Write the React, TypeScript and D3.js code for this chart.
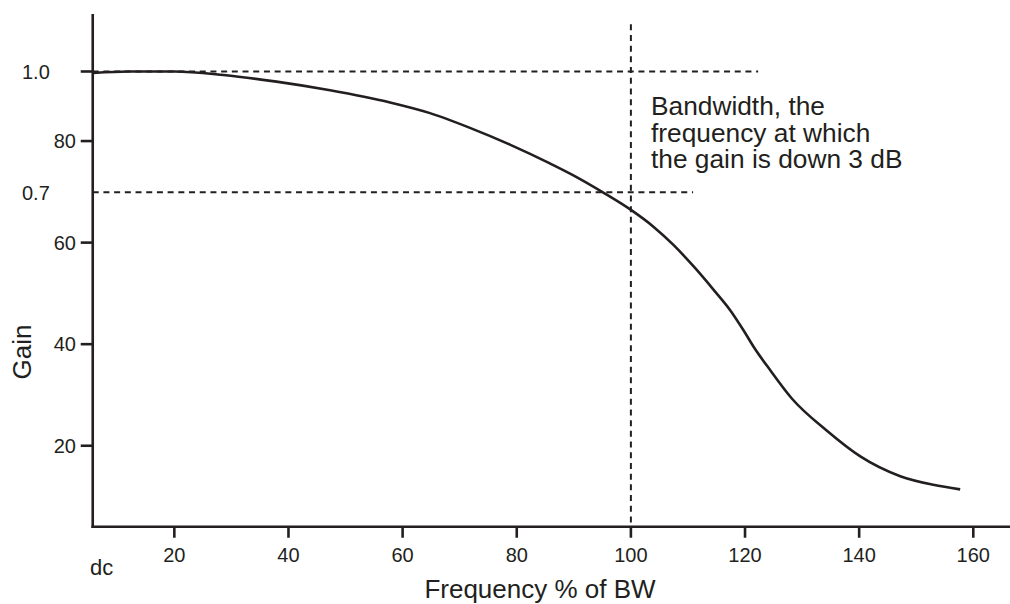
import * as d3 from "d3";

// curve (freq % of BW, gain)
const freq = [5.75, 12, 20, 28.6, 37.9, 47.3, 57.8, 64.8, 71.8, 78.8, 85.8, 90, 95.1, 100.2, 104, 107.5, 111, 114.5, 117.4, 119.7, 121.5, 124.4, 128.2, 134.3, 140.2, 147.2, 153.0, 157.7];
const gain = [93.4, 93.7, 93.7, 93.0, 91.7, 90.0, 87.6, 85.5, 82.6, 79.3, 75.6, 73.2, 69.9, 66.3, 63.1, 59.5, 55.3, 50.7, 46.7, 42.8, 39.5, 34.9, 29.3, 23.0, 17.9, 14.0, 12.3, 11.4];

const xTicks = [20, 40, 60, 80, 100, 120, 140, 160];
const yTicks = [20, 40, 60, 80];
const refLevels = [
  { label: "1.0", value: 93.7, end: 122.3, tick: true },
  { label: "0.7", value: 69.9, end: 110.9, tick: false },
];
const bandwidth = 100;
const noteLines = ["Bandwidth, the", "frequency at which", "the gain is down 3 dB"];

const W = 1010;
const H = 604;
const ink = "#231f20";
const font = "'Liberation Sans', Arial, Helvetica, sans-serif";

export default function App() {
  const x = d3.scaleLinear().domain([0, 160]).range([60.2, 973.3]);
  const y = d3.scaleLinear().domain([0, 100]).range([547.3, 39.5]);

  const xMin = 5.7;
  const yMin = 4.05;
  const x0 = x(xMin);
  const y0 = y(yMin);

  const pts: [number, number][] = freq.map((f, i) => [f, gain[i]]);
  const line = d3
    .line<[number, number]>()
    .x((d) => x(d[0]))
    .y((d) => y(d[1]))
    .curve(d3.curveMonotoneX);

  return (
    <svg
      width={W}
      height={H}
      style={{ position: "absolute", left: 0, top: 0, background: "#fff" }}
      fontFamily={font}
    >
      {/* dotted reference lines */}
      {refLevels.map((r) => (
        <line
          key={r.label}
          x1={x0}
          x2={x(r.end)}
          y1={y(r.value)}
          y2={y(r.value)}
          stroke={ink}
          strokeWidth={2}
          strokeDasharray="6,4.7"
        />
      ))}
      <line
        x1={x(bandwidth)}
        x2={x(bandwidth)}
        y1={y(103)}
        y2={y0}
        stroke={ink}
        strokeWidth={2}
        strokeDasharray="6,4.7"
      />

      {/* curve */}
      <path d={line(pts) ?? ""} fill="none" stroke={ink} strokeWidth={2.6} />

      {/* axes */}
      <line x1={x0} x2={x0} y1={y(105)} y2={y0 + 1.3} stroke={ink} strokeWidth={2.6} />
      <line x1={x0 - 1.3} x2={W} y1={y0} y2={y0} stroke={ink} strokeWidth={2.6} />

      {xTicks.map((t) => (
        <g key={t} transform={`translate(${x(t)},0)`}>
          <line y1={y0} y2={y0 + 11} stroke={ink} strokeWidth={2.6} />
          <text y={561.5} textAnchor="middle" fontSize={20} fill={ink}>
            {t}
          </text>
        </g>
      ))}

      {yTicks.map((t) => (
        <g key={t} transform={`translate(0,${y(t)})`}>
          <line x1={x0 - 12} x2={x0} stroke={ink} strokeWidth={2.6} />
          <text x={76} dy="0.36em" textAnchor="end" fontSize={20} fill={ink}>
            {t}
          </text>
        </g>
      ))}

      {refLevels.map((r) => (
        <g key={r.label} transform={`translate(0,${y(r.value)})`}>
          {r.tick && <line x1={x0 - 12} x2={x0} stroke={ink} strokeWidth={2.6} />}
          <text x={22} dy="0.36em" fontSize={20} fill={ink}>
            {r.label}
          </text>
        </g>
      ))}

      <text x={90} y={575} fontSize={22} fill={ink}>
        dc
      </text>

      <text x={540} y={598} textAnchor="middle" fontSize={26} fill={ink}>
        Frequency % of BW
      </text>
      <text
        transform={`translate(31,352) rotate(-90)`}
        textAnchor="middle"
        fontSize={26}
        fill={ink}
      >
        Gain
      </text>

      <text x={651} y={115} fontSize={26.3} fill={ink}>
        {noteLines.map((l, i) => (
          <tspan key={i} x={651} dy={i === 0 ? 0 : 26.5}>
            {l}
          </tspan>
        ))}
      </text>
    </svg>
  );
}
